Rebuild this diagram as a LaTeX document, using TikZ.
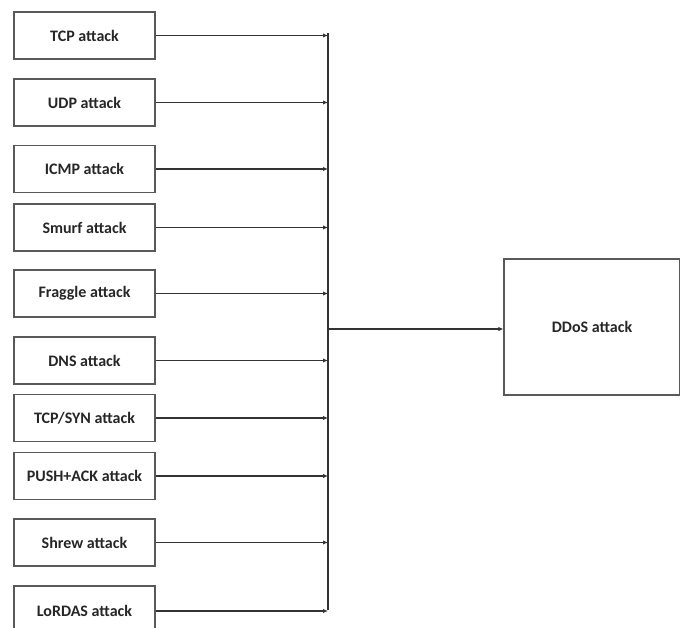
\documentclass[tikz,border=0pt]{standalone}
\usepackage{fontspec}
\setmainfont{Carlito}
\usetikzlibrary{arrows.meta}
\begin{document}
\begin{tikzpicture}[x=1pt,y=-1pt,
  box/.style={draw=black!65,line width=1.1pt,minimum width=141pt,minimum height=47pt,inner sep=0pt,font=\fontsize{16}{19}\selectfont\bfseries,text=black!85},
  conn/.style={draw=black!80,line width=1.2pt},
  arr/.style={conn,-{Latex[length=5pt,width=4.5pt]}}]
\useasboundingbox (0,0) rectangle (680,627);
\node[box] (n1) at (84.5,35.5) {TCP attack};
\node[box] (n2) at (84.5,102.5) {UDP attack};
\node[box] (n3) at (84.5,169) {ICMP attack};
\node[box] (n4) at (84.5,227.5) {Smurf attack};
\node[box] (n5) at (84.5,293.5) {Fraggle attack};
\node[box] (n6) at (84.5,360.5) {DNS attack};
\node[box] (n7) at (84.5,418) {TCP/SYN attack};
\node[box] (n8) at (84.5,476) {PUSH+ACK attack};
\node[box] (n9) at (84.5,542.5) {Shrew attack};
\node[box,minimum height=50pt] (n10) at (84.5,611) {LoRDAS attack};
\node[box,minimum width=176pt,minimum height=136pt] (dd) at (592,327) {DDoS attack};
\coordinate (top) at (328,33);
\coordinate (bot) at (328,610);
\coordinate (jn) at (328,329);
\draw[conn] (top) -- (bot);
\foreach \i in {1,...,10} {
  \draw[arr] (n\i.east) -- (n\i.east -| top);
}
\draw[arr] (jn) -- (dd.west |- jn);
\end{tikzpicture}
\end{document}
